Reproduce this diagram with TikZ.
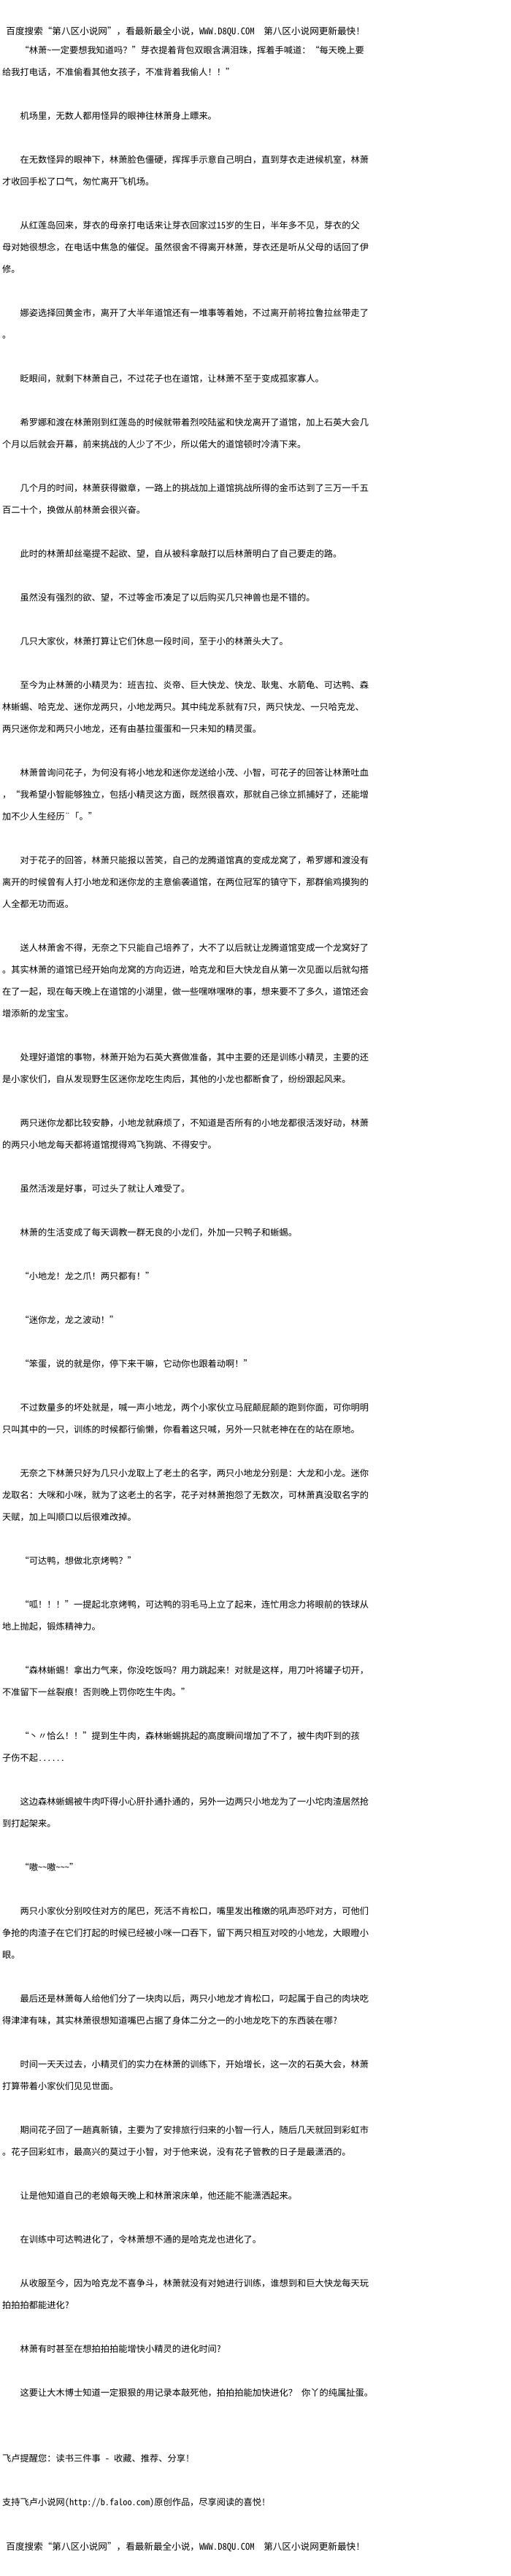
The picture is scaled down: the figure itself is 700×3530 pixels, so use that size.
\documentclass[tikz,border=0pt]{standalone}
\usepackage{fontspec}
\setmainfont{Noto Sans CJK SC}[RawFeature=+fwid]
\newfontfamily\halfw{Noto Sans CJK SC}[RawFeature=+hwid]
\newcommand\asc[1]{{\halfw #1}}
\tikzset{%
  every node/.style={inner sep=0pt, anchor=base west, font=\fontsize{12.24}{14}\selectfont},
  para/.style={at={(27.5,{-73.7-30*#1})}}, % first line of a paragraph, two cells in
  cont/.style={at={(3,{-73.7-30*#1})}},    % wrapped line, flush left
  banner/.style={font=\fontsize{12.6}{14}\selectfont}
}

\begin{document}
\begin{tikzpicture}[x=1pt, y=1pt]
  \fill[white] (0,0) rectangle (700,-3530);
  \useasboundingbox (0,0) rectangle (700,-3530);
  \node[banner] (r1) at (8.3,-47.6) {百度搜索“第八区小说网”，看最新最全小说，\asc{WWW.D8QU.COM}　第八区小说网更新最快\asc{!}};
  \node[para=0] (r2) {“林萧\asc{\string~}一定要想我知道吗？”芽衣提着背包双眼含满泪珠，挥着手喊道：“每天晚上要};
  \node[cont=1] (r3) {给我打电话，不准偷看其他女孩子，不准背着我偷人！！”};
  \node[para=3] (r4) {机场里，无数人都用怪异的眼神往林萧身上瞟来。};
  \node[para=5] (r5) {在无数怪异的眼神下，林萧脸色僵硬，挥挥手示意自己明白，直到芽衣走进候机室，林萧};
  \node[cont=6] (r6) {才收回手松了口气，匆忙离开飞机场。};
  \node[para=8] (r7) {从红莲岛回来，芽衣的母亲打电话来让芽衣回家过\asc{15}岁的生日，半年多不见，芽衣的父};
  \node[cont=9] (r8) {母对她很想念，在电话中焦急的催促。虽然很舍不得离开林萧，芽衣还是听从父母的话回了伊};
  \node[cont=10] (r9) {修。};
  \node[para=12] (r10) {娜姿选择回黄金市，离开了大半年道馆还有一堆事等着她，不过离开前将拉鲁拉丝带走了};
  \node[cont=13] (r11) {。};
  \node[para=15] (r12) {眨眼间，就剩下林萧自己，不过花子也在道馆，让林萧不至于变成孤家寡人。};
  \node[para=17] (r13) {希罗娜和渡在林萧刚到红莲岛的时候就带着烈咬陆鲨和快龙离开了道馆，加上石英大会几};
  \node[cont=18] (r14) {个月以后就会开幕，前来挑战的人少了不少，所以偌大的道馆顿时冷清下来。};
  \node[para=20] (r15) {几个月的时间，林萧获得徽章，一路上的挑战加上道馆挑战所得的金币达到了三万一千五};
  \node[cont=21] (r16) {百二十个，换做从前林萧会很兴奋。};
  \node[para=23] (r17) {此时的林萧却丝毫提不起欲、望，自从被科拿敲打以后林萧明白了自己要走的路。};
  \node[para=25] (r18) {虽然没有强烈的欲、望，不过等金币凑足了以后购买几只神兽也是不错的。};
  \node[para=27] (r19) {几只大家伙，林萧打算让它们休息一段时间，至于小的林萧头大了。};
  \node[para=29] (r20) {至今为止林萧的小精灵为：班吉拉、炎帝、巨大快龙、快龙、耿鬼、水箭龟、可达鸭、森};
  \node[cont=30] (r21) {林蜥蜴、哈克龙、迷你龙两只，小地龙两只。其中纯龙系就有\asc{7}只，两只快龙、一只哈克龙、};
  \node[cont=31] (r22) {两只迷你龙和两只小地龙，还有由基拉蛋蛋和一只未知的精灵蛋。};
  \node[para=33] (r23) {林萧曾询问花子，为何没有将小地龙和迷你龙送给小茂、小智，可花子的回答让林萧吐血};
  \node[cont=34] (r24) {，“我希望小智能够独立，包括小精灵这方面，既然很喜欢，那就自己徐立抓捕好了，还能增};
  \node[cont=35] (r25) {加不少人生经历¨「。”};
  \node[para=37] (r26) {对于花子的回答，林萧只能报以苦笑，自己的龙腾道馆真的变成龙窝了，希罗娜和渡没有};
  \node[cont=38] (r27) {离开的时候曾有人打小地龙和迷你龙的主意偷袭道馆，在两位冠军的镇守下，那群偷鸡摸狗的};
  \node[cont=39] (r28) {人全都无功而返。};
  \node[para=41] (r29) {送人林萧舍不得，无奈之下只能自己培养了，大不了以后就让龙腾道馆变成一个龙窝好了};
  \node[cont=42] (r30) {。其实林萧的道馆已经开始向龙窝的方向迈进，哈克龙和巨大快龙自从第一次见面以后就勾搭};
  \node[cont=43] (r31) {在了一起，现在每天晚上在道馆的小湖里，做一些嘿咻嘿咻的事，想来要不了多久，道馆还会};
  \node[cont=44] (r32) {增添新的龙宝宝。};
  \node[para=46] (r33) {处理好道馆的事物，林萧开始为石英大赛做准备，其中主要的还是训练小精灵，主要的还};
  \node[cont=47] (r34) {是小家伙们，自从发现野生区迷你龙吃生肉后，其他的小龙也都断食了，纷纷跟起风来。};
  \node[para=49] (r35) {两只迷你龙都比较安静，小地龙就麻烦了，不知道是否所有的小地龙都很活泼好动，林萧};
  \node[cont=50] (r36) {的两只小地龙每天都将道馆搅得鸡飞狗跳、不得安宁。};
  \node[para=52] (r37) {虽然活泼是好事，可过头了就让人难受了。};
  \node[para=54] (r38) {林萧的生活变成了每天调教一群无良的小龙们，外加一只鸭子和蜥蜴。};
  \node[para=56] (r39) {“小地龙！龙之爪！两只都有！”};
  \node[para=58] (r40) {“迷你龙，龙之波动！”};
  \node[para=60] (r41) {“笨蛋，说的就是你，停下来干嘛，它动你也跟着动啊！”};
  \node[para=62] (r42) {不过数量多的坏处就是，喊一声小地龙，两个小家伙立马屁颠屁颠的跑到你面，可你明明};
  \node[cont=63] (r43) {只叫其中的一只，训练的时候都行偷懒，你看着这只喊，另外一只就老神在在的站在原地。};
  \node[para=65] (r44) {无奈之下林萧只好为几只小龙取上了老土的名字，两只小地龙分别是：大龙和小龙。迷你};
  \node[cont=66] (r45) {龙取名：大咪和小咪，就为了这老土的名字，花子对林萧抱怨了无数次，可林萧真没取名字的};
  \node[cont=67] (r46) {天赋，加上叫顺口以后很难改掉。};
  \node[para=69] (r47) {“可达鸭，想做北京烤鸭？”};
  \node[para=71] (r48) {“呱！！！”一提起北京烤鸭，可达鸭的羽毛马上立了起来，连忙用念力将眼前的铁球从};
  \node[cont=72] (r49) {地上抛起，锻炼精神力。};
  \node[para=74] (r50) {“森林蜥蜴！拿出力气来，你没吃饭吗？用力跳起来！对就是这样，用刀叶将罐子切开，};
  \node[cont=75] (r51) {不准留下一丝裂痕！否则晚上罚你吃生牛肉。”};
  \node[para=77] (r52) {“丶〃恰么！！”提到生牛肉，森林蜥蜴挑起的高度瞬间增加了不了，被牛肉吓到的孩};
  \node[cont=78] (r53) {子伤不起\asc{......}};
  \node[para=80] (r54) {这边森林蜥蜴被牛肉吓得小心肝扑通扑通的，另外一边两只小地龙为了一小坨肉渣居然抢};
  \node[cont=81] (r55) {到打起架来。};
  \node[para=83] (r56) {“嗷\asc{\string~\string~}嗷\asc{\string~\string~\string~}”};
  \node[para=85] (r57) {两只小家伙分别咬住对方的尾巴，死活不肯松口，嘴里发出稚嫩的吼声恐吓对方，可他们};
  \node[cont=86] (r58) {争抢的肉渣子在它们打起的时候已经被小咪一口吞下，留下两只相互对咬的小地龙，大眼瞪小};
  \node[cont=87] (r59) {眼。};
  \node[para=89] (r60) {最后还是林萧每人给他们分了一块肉以后，两只小地龙才肯松口，叼起属于自己的肉块吃};
  \node[cont=90] (r61) {得津津有味，其实林萧很想知道嘴巴占据了身体二分之一的小地龙吃下的东西装在哪\asc{?}};
  \node[para=92] (r62) {时间一天天过去，小精灵们的实力在林萧的训练下，开始增长，这一次的石英大会，林萧};
  \node[cont=93] (r63) {打算带着小家伙们见见世面。};
  \node[para=95] (r64) {期间花子回了一趟真新镇，主要为了安排旅行归来的小智一行人，随后几天就回到彩虹市};
  \node[cont=96] (r65) {。花子回彩虹市，最高兴的莫过于小智，对于他来说，没有花子管教的日子是最潇洒的。};
  \node[para=98] (r66) {让是他知道自己的老娘每天晚上和林萧滚床单，他还能不能潇洒起来。};
  \node[para=100] (r67) {在训练中可达鸭进化了，令林萧想不通的是哈克龙也进化了。};
  \node[para=102] (r68) {从收服至今，因为哈克龙不喜争斗，林萧就没有对她进行训练，谁想到和巨大快龙每天玩};
  \node[cont=103] (r69) {拍拍拍都能进化\asc{?}};
  \node[para=105] (r70) {林萧有时甚至在想拍拍拍能增快小精灵的进化时间\asc{?}};
  \node[para=107] (r71) {这要让大木博士知道一定狠狠的用记录本敲死他，拍拍拍能加快进化？\hspace{0.5em}你丫的纯属扯蛋。};
  \node[cont=110] (r72) {飞卢提醒您：读书三件事\asc{ - }收藏、推荐、分享\asc{!}};
  \node[cont=112] (r73) {支持飞卢小说网\asc{(http://b.faloo.com)}原创作品，尽享阅读的喜悦\asc{!}};
  \node[banner] (r74) at (8.3,-3494) {百度搜索“第八区小说网”，看最新最全小说，\asc{WWW.D8QU.COM}　第八区小说网更新最快\asc{!}};
\end{tikzpicture}
\end{document}
